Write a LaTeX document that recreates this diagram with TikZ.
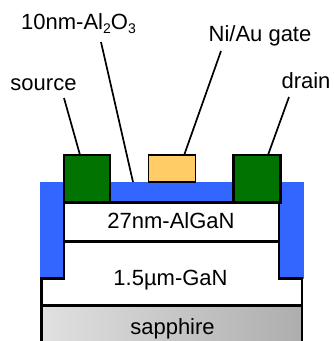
\documentclass[tikz,border=0pt]{standalone}
\usepackage{fontspec}
\setmainfont{Liberation Sans}
\definecolor{oxide}{HTML}{3366FF}
\definecolor{contact}{HTML}{007300}
\definecolor{gatecol}{HTML}{FFCC66}
\tikzset{
  ln/.style={line width=2.4pt,draw=black},
  lead/.style={line width=1.7pt,draw=black},
  lab/.style={font=\fontsize{22pt}{24pt}\selectfont,inner sep=0pt,anchor=base,text=black},
  metal/.style={ln,outer sep=0pt,minimum width=#1,inner sep=0pt,anchor=south west}
}
\newcommand{\lowsub}[1]{\raisebox{-0.22em}{\fontsize{14pt}{14pt}\selectfont #1}}
\begin{document}
\begin{tikzpicture}[x=1pt,y=-1pt]
\useasboundingbox (0,0) rectangle (333,341);
% oxide
\fill[oxide] (40,181.5) rectangle (304,279);
% GaN mesa
\path[fill=white,ln] (64,241) -- (64,278.5) -- (41.5,278.5) -- (41.5,305.5) -- (302,305.5) -- (302,278.5) -- (279,278.5) -- (279,241) -- cycle;
% sapphire
\path[left color=black!12,right color=black!32,ln] (41.5,306) rectangle (302,345);
% AlGaN
\node[draw=black,line width=2.6pt,outer sep=0pt,fill=white,inner sep=0pt,minimum width=215pt,minimum height=39pt,anchor=north west] (algan) at (64,202.5) {};
% contacts
\node[metal=46pt,fill=contact,minimum height=47.5pt] (src) at (64,202.5) {};
\node[metal=47pt,fill=contact,minimum height=47.5pt] (drn) at (233.5,202.5) {};
\node[metal=47pt,fill=gatecol,minimum height=27pt,line width=1.6pt] (gate) at (148.5,182) {};
% labels
\node[lab] (loxide) at (78.5,29) {10nm-Al\lowsub{2}O\lowsub{3}};
\node[lab] (lgate) at (260,41) {Ni/Au gate};
\node[lab] (lsrc) at (43.5,90.5) {source};
\node[lab] (ldrn) at (306,88) {drain};
\node[lab] (talgan) at (171,228) {27nm-AlGaN};
\node[lab] (tgan) at (170.5,285) {1.5µm-GaN};
\node[lab] (tsap) at (172.5,334) {sapphire};
% connector ends
\coordinate (o1) at (101,42); \coordinate (o2) at (133,182);
\coordinate (g1) at (221,51);
\coordinate (s1) at (64,98);
\coordinate (d1) at (289,97);
\coordinate (gA) at (184,155.5);
\coordinate (sA) at (80,155);
\coordinate (dA) at (268,155);
\draw[lead] (o1) -- (o2);
\draw[lead] (g1) -- (gA);
\draw[lead] (s1) -- (sA);
\draw[lead] (d1) -- (dA);
\end{tikzpicture}
\end{document}
